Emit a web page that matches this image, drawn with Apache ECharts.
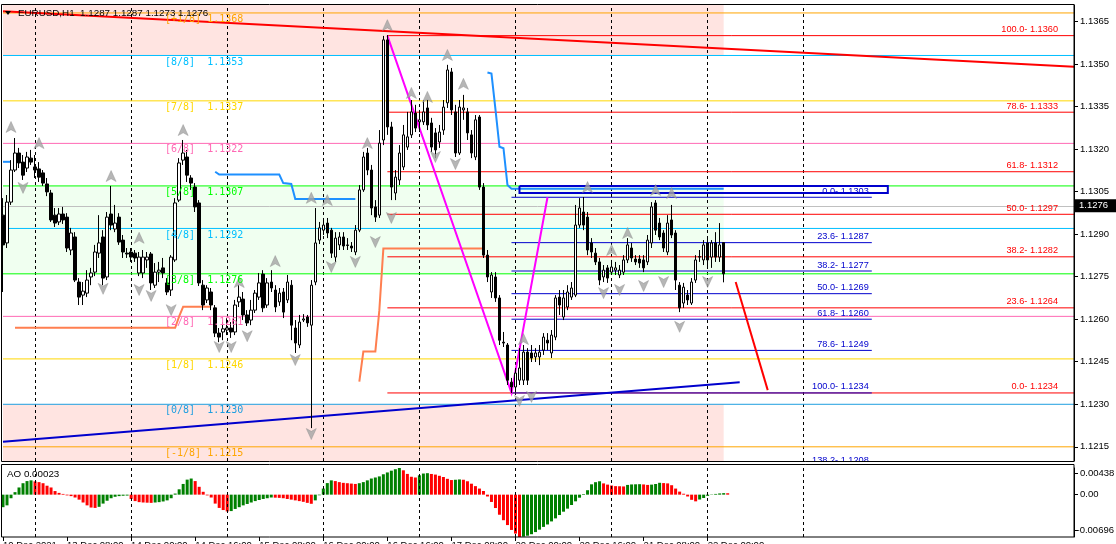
<!DOCTYPE html>
<html><head><meta charset="utf-8">
<script src="https://cdn.jsdelivr.net/npm/echarts@6/dist/echarts.min.js"></script>
<style>html,body{margin:0;padding:0;background:#fff}#c{width:1116px;height:544px}</style>
</head><body><div id="c"></div>
<script>
// ---------- data ----------
const headerText = 'EURUSD,H1  1.1287 1.1287 1.1273 1.1276';
const aoTitle = 'AO 0.00023';
const barCount = 268; // visible slots incl. chart shift
const priceTicks = [1.1365,1.1350,1.1335,1.1320,1.1305,1.1290,1.1275,1.1260,1.1245,1.1230,1.1215];
const yMin = 1.12100, yMax = 1.13708;
const aoMin = -0.00696, aoMax = 0.00438;
const aoTickValues = [0.00438, 0, -0.00696];
const aoTickLabels = ['0.00438', '0.00', '-0.00696'];
const xLabelIdx = [0,16,32,48,64,80,96,112,128,144,160,176];
const xLabelText = ['10 Dec 2021','13 Dec 08:00','14 Dec 00:00','14 Dec 16:00','15 Dec 08:00','16 Dec 00:00','16 Dec 16:00','17 Dec 08:00','20 Dec 00:00','20 Dec 16:00','21 Dec 08:00','22 Dec 00:00'];
const dayStartIdx = [8,32,56,80,104,128,152,176,200];

// [open, close, low, high]
const ohlc = [
[1.12967,1.12862,1.12696,1.13027],[1.12869,1.13013,1.12851,1.13038],[1.13013,1.13126,1.13003,1.13161],[1.13126,1.13186,1.13119,1.13239],[1.13186,1.13151,1.13133,1.13204],
[1.13154,1.13108,1.13091,1.13179],[1.13133,1.13172,1.13119,1.13190],[1.13168,1.13154,1.13144,1.13197],[1.13137,1.13126,1.13098,1.13179],[1.13130,1.13101,1.13084,1.13154],
[1.13116,1.13080,1.13070,1.13126],[1.13077,1.13049,1.13034,1.13098],[1.13045,1.12950,1.12943,1.13056],[1.12967,1.12939,1.12925,1.12992],[1.12943,1.12971,1.12932,1.12992],
[1.12971,1.12950,1.12936,1.12996],[1.12960,1.12851,1.12837,1.12974],[1.12844,1.12904,1.12826,1.12922],[1.12890,1.12738,1.12731,1.12907],[1.12731,1.12678,1.12650,1.12745],
[1.12685,1.12699,1.12650,1.12731],[1.12692,1.12738,1.12678,1.12773],[1.12749,1.12763,1.12720,1.12781],[1.12766,1.12837,1.12752,1.12862],[1.12833,1.12869,1.12816,1.12967],
[1.12890,1.12745,1.12720,1.12914],[1.12749,1.12960,1.12738,1.12978],[1.12971,1.12932,1.12914,1.13070],[1.12918,1.12939,1.12907,1.13003],[1.12960,1.12872,1.12862,1.12974],
[1.12879,1.12837,1.12816,1.12897],[1.12833,1.12830,1.12816,1.12851],[1.12837,1.12819,1.12802,1.12851],[1.12833,1.12816,1.12802,1.12844],[1.12763,1.12819,1.12752,1.12837],
[1.12763,1.12819,1.12745,1.12844],[1.12809,1.12819,1.12781,1.12837],[1.12830,1.12728,1.12703,1.12837],[1.12720,1.12766,1.12710,1.12798],[1.12766,1.12773,1.12731,1.12802],
[1.12781,1.12763,1.12745,1.12816],[1.12728,1.12696,1.12685,1.12745],[1.12703,1.12819,1.12682,1.12826],[1.12809,1.13010,1.12802,1.13027],[1.13020,1.13151,1.13013,1.13168],
[1.13161,1.13186,1.13144,1.13232],[1.13172,1.13108,1.13084,1.13197],[1.13098,1.13080,1.13056,1.13108],[1.13066,1.12996,1.12978,1.13080],[1.13010,1.12728,1.12717,1.13020],
[1.12720,1.12650,1.12632,1.12738],[1.12668,1.12710,1.12657,1.12720],[1.12696,1.12650,1.12632,1.12710],[1.12640,1.12551,1.12537,1.12650],[1.12551,1.12537,1.12519,1.12569],
[1.12555,1.12566,1.12526,1.12590],[1.12562,1.12569,1.12544,1.12604],[1.12569,1.12555,1.12534,1.12590],[1.12555,1.12650,1.12544,1.12668],[1.12661,1.12678,1.12643,1.12720],
[1.12671,1.12615,1.12597,1.12696],[1.12615,1.12587,1.12576,1.12632],[1.12597,1.12632,1.12579,1.12668],[1.12632,1.12692,1.12622,1.12703],[1.12678,1.12728,1.12668,1.12763],
[1.12759,1.12640,1.12625,1.12773],[1.12650,1.12728,1.12640,1.12745],[1.12731,1.12710,1.12696,1.12773],[1.12703,1.12643,1.12625,1.12720],[1.12661,1.12692,1.12647,1.12710],
[1.12696,1.12625,1.12604,1.12710],[1.12668,1.12731,1.12657,1.12756],[1.12720,1.12579,1.12526,1.12738],[1.12569,1.12516,1.12481,1.12597],[1.12509,1.12590,1.12498,1.12615],
[1.12597,1.12601,1.12590,1.12618],[1.12608,1.12587,1.12573,1.12615],[1.12579,1.12720,1.12216,1.12738],[1.12731,1.12869,1.12720,1.12992],[1.12879,1.12922,1.12865,1.12943],
[1.12914,1.12932,1.12897,1.12957],[1.12939,1.12904,1.12886,1.12957],[1.12914,1.12833,1.12816,1.12922],[1.12819,1.12886,1.12802,1.12907],[1.12862,1.12890,1.12844,1.12907],
[1.12890,1.12858,1.12844,1.12907],[1.12862,1.12860,1.12844,1.12886],[1.12858,1.12851,1.12837,1.12872],[1.12837,1.12914,1.12826,1.12932],[1.12914,1.13056,1.12907,1.13073],
[1.13056,1.13172,1.13049,1.13190],[1.13186,1.13126,1.13108,1.13204],[1.13126,1.12992,1.12967,1.13144],[1.12996,1.12960,1.12943,1.13020],[1.12967,1.13221,1.12957,1.13267],
[1.13232,1.13585,1.13214,1.13599],[1.13585,1.13278,1.13250,1.13602],[1.13278,1.13066,1.13020,1.13296],[1.13045,1.13101,1.13020,1.13126],[1.13091,1.13186,1.13073,1.13214],
[1.13137,1.13250,1.13126,1.13285],[1.13207,1.13243,1.13197,1.13331],[1.13250,1.13331,1.13239,1.13373],[1.13327,1.13274,1.13260,1.13356],[1.13296,1.13303,1.13260,1.13338],
[1.13296,1.13331,1.13285,1.13373],[1.13345,1.13285,1.13267,1.13373],[1.13292,1.13207,1.13190,1.13310],[1.13257,1.13197,1.13168,1.13274],[1.13225,1.13260,1.13204,1.13285],
[1.13267,1.13348,1.13250,1.13373],[1.13363,1.13479,1.13345,1.13497],[1.13472,1.13338,1.13320,1.13486],[1.13331,1.13186,1.13172,1.13356],[1.13186,1.13348,1.13179,1.13373],
[1.13338,1.13345,1.13303,1.13391],[1.13331,1.13257,1.13232,1.13345],[1.13250,1.13186,1.13168,1.13267],[1.13172,1.13303,1.13161,1.13320],[1.13313,1.13066,1.13056,1.13320],
[1.13066,1.12826,1.12816,1.13080],[1.12826,1.12749,1.12731,1.12844],[1.12696,1.12756,1.12675,1.12766],[1.12749,1.12675,1.12661,1.12766],[1.12675,1.12526,1.12509,1.12685],
[1.12519,1.12516,1.12502,1.12555],[1.12509,1.12385,1.12368,1.12516],[1.12378,1.12361,1.12340,1.12393],[1.12361,1.12410,1.12343,1.12428],[1.12385,1.12428,1.12368,1.12498],
[1.12385,1.12484,1.12368,1.12509],[1.12484,1.12385,1.12368,1.12498],[1.12481,1.12463,1.12449,1.12509],[1.12467,1.12481,1.12449,1.12498],[1.12467,1.12484,1.12438,1.12509],
[1.12491,1.12537,1.12474,1.12551],[1.12526,1.12516,1.12491,1.12551],[1.12481,1.12544,1.12463,1.12562],[1.12537,1.12675,1.12526,1.12685],[1.12678,1.12650,1.12615,1.12703],
[1.12608,1.12675,1.12597,1.12703],[1.12643,1.12696,1.12632,1.12720],[1.12678,1.12710,1.12668,1.12731],[1.12685,1.12932,1.12678,1.13003],[1.12932,1.12992,1.12922,1.13027],
[1.12978,1.12932,1.12914,1.13031],[1.12960,1.12844,1.12826,1.12978],[1.12869,1.12837,1.12816,1.12886],[1.12833,1.12802,1.12791,1.12851],[1.12802,1.12738,1.12720,1.12816],
[1.12749,1.12773,1.12731,1.12791],[1.12781,1.12745,1.12728,1.12791],[1.12766,1.12784,1.12756,1.12809],[1.12773,1.12781,1.12756,1.12802],[1.12756,1.12773,1.12745,1.12791],
[1.12766,1.12809,1.12756,1.12826],[1.12809,1.12862,1.12798,1.12886],[1.12851,1.12816,1.12802,1.12869],[1.12812,1.12802,1.12791,1.12826],[1.12812,1.12798,1.12781,1.12826],
[1.12809,1.12781,1.12766,1.12826],[1.12802,1.12879,1.12791,1.12897],[1.12869,1.12996,1.12851,1.13013],[1.13010,1.12914,1.12897,1.13020],[1.12939,1.12890,1.12879,1.12957],
[1.12904,1.12851,1.12837,1.12914],[1.12837,1.12939,1.12826,1.12967],[1.12950,1.12897,1.12886,1.13003],[1.12904,1.12738,1.12703,1.12914],[1.12720,1.12640,1.12625,1.12731],
[1.12657,1.12713,1.12640,1.12728],[1.12685,1.12668,1.12650,1.12703],[1.12657,1.12731,1.12650,1.12745],[1.12738,1.12809,1.12728,1.12826],[1.12819,1.12821,1.12802,1.12844],
[1.12809,1.12862,1.12791,1.12879],[1.12869,1.12809,1.12781,1.12886],[1.12819,1.12869,1.12781,1.12879],[1.12869,1.12819,1.12802,1.12907],[1.12819,1.12862,1.12802,1.12939],
[1.1287,1.1276,1.1273,1.1287]
];

const aoValues = [
-0.00206,-0.00176,-0.00059,0.00041,0.00118,0.00188,0.00223,0.00235,0.00218,0.00206,
0.00188,0.00147,0.00118,0.00059,0.00029,0.00012,-0.00012,-0.00024,-0.00047,-0.00082,
-0.00129,-0.00176,-0.00212,-0.00218,-0.00200,-0.00147,-0.00100,-0.00059,-0.00035,-0.00024,
-0.00018,-0.00015,-0.00071,-0.00106,-0.00123,-0.00129,-0.00132,-0.00135,-0.00129,-0.00123,
-0.00112,-0.00094,-0.00059,0.00018,0.00088,0.00176,0.00247,0.00265,0.00223,0.00129,
0.00047,-0.00012,-0.00047,-0.00147,-0.00218,-0.00253,-0.00276,-0.00270,-0.00235,-0.00206,
-0.00176,-0.00153,-0.00129,-0.00106,-0.00088,-0.00071,-0.00059,-0.00047,-0.00050,-0.00053,
-0.00059,-0.00071,-0.00082,-0.00094,-0.00106,-0.00118,-0.00135,-0.00150,-0.00094,-0.00010,
0.00100,0.00190,0.00235,0.00223,0.00206,0.00194,0.00188,0.00182,0.00176,0.00188,
0.00206,0.00235,0.00265,0.00282,0.00300,0.00335,0.00365,0.00394,0.00418,0.00438,
0.00400,0.00341,0.00294,0.00282,0.00318,0.00347,0.00353,0.00340,0.00330,0.00310,
0.00290,0.00260,0.00240,0.00245,0.00250,0.00245,0.00220,0.00180,0.00140,0.00100,
0.00060,-0.00030,-0.00120,-0.00220,-0.00330,-0.00420,-0.00500,-0.00580,-0.00640,-0.00696,
-0.00690,-0.00675,-0.00650,-0.00615,-0.00575,-0.00530,-0.00490,-0.00440,-0.00390,-0.00335,
-0.00280,-0.00230,-0.00170,-0.00110,-0.00050,0.00010,0.00073,0.00170,0.00205,0.00220,
0.00185,0.00165,0.00150,0.00140,0.00138,0.00135,0.00160,0.00168,0.00170,0.00172,
0.00168,0.00160,0.00165,0.00175,0.00195,0.00190,0.00185,0.00155,0.00100,0.00050,
0.00015,-0.00030,-0.00085,-0.00110,-0.00080,-0.00055,-0.00020,0.00005,0.00012,0.00020,
0.00025,0.00023
];

// Murrey Math levels
const murreyNames = ['[+1/8]','[8/8]','[7/8]','[6/8]','[5/8]','[4/8]','[3/8]','[2/8]','[1/8]','[0/8]','[-1/8]'];
const murreyValues = [1.1368,1.1353,1.1337,1.1322,1.1307,1.1292,1.1276,1.1261,1.1246,1.1230,1.1215];
const murreyColors = ['#FFA500','#00BFFF','#FFD700','#FF69B4','#00FF00','#00BFFF','#00FF00','#FF69B4','#FFD700','#1E9EE0','#FFA500'];
const fullSpan = [-0.5, 267.5];
// zones [from, to]
const zonePinkTop = [1.1353, yMax];
const zoneGreen = [1.1276, 1.1307];
const zonePinkBottom = [yMin, 1.1230];
const zoneEndBar = 180;

// Fibonacci sets
const redFibPct = ['100.0','78.6','61.8','50.0','38.2','23.6','0.0'];
const redFibValues = [1.1360,1.1333,1.1312,1.1297,1.1282,1.1264,1.1234];
const redFibBars = [96, 267.5];
const blueFibPct = ['0.0','23.6','38.2','50.0','61.8','78.6','100.0','138.2'];
const blueFibValues = [1.1303,1.1287,1.1277,1.1269,1.1260,1.1249,1.1234,1.1208];
const blueFibBars = [127, 217];

// drawn objects / indicator lines: [bar, price]
const redTrend = [[-0.5,1.13686],[267.5,1.13490]];
const blueTrend = [[-0.5,1.12168],[184,1.12378]];
const zigzag = [[96,1.1360],[127,1.1234],[136,1.1303]];
const redProjection = [[183,1.12731],[191,1.1235]];
const boxRect = [[129,1.1307],[221,1.1307],[221,1.13045],[129,1.13045],[129,1.1307]];
const stBlue1 = [[0,1.13155],[2,1.13155]];
const stBlue2 = [[53,1.1312],[54,1.1311],[69,1.1311],[70,1.1308],[72,1.13077],[73,1.13024],[88,1.13024]];
const stBlue3 = [[121,1.1347],[122,1.13466],[123,1.1334],[124,1.13208],[125,1.13203],[126,1.13073],[127,1.1306],[180,1.1306]];
const stCoral1 = [[3,1.1257],[43,1.1257],[44,1.1261],[45,1.12644],[52,1.12644]];
const stCoral2 = [[89,1.1238],[90,1.12486],[93,1.12486],[94,1.12632],[95,1.12849],[120,1.12849]];

const fractalUp = [[2,1.13278],[9,1.13221],[27,1.13105],[34,1.12887],[45,1.13267],[59,1.12731],[68,1.12805],[77,1.13028],[81,1.13020],[91,1.13221],[96,1.13637],[102,1.13398],[106,1.13384],[111,1.13532],[115,1.13430],[130,1.12530],[146,1.13066],[152,1.12844],[156,1.12904],[163,1.13056],[167,1.13045]];
const fractalDown = [[5,1.13063],[25,1.12707],[34,1.12703],[37,1.12682],[42,1.12632],[54,1.12502],[57,1.12502],[61,1.12540],[73,1.12456],[77,1.12195],[82,1.12784],[88,1.12802],[93,1.12872],[97,1.12957],[108,1.13172],[113,1.13147],[129,1.12312],[132,1.12326],[150,1.12692],[154,1.12703],[160,1.12717],[165,1.12731],[169,1.12573],[176,1.12731]];

const bidPrice = 1.12757, bidLabel = '1.1276';

// ---------- chart ----------
const FONT = 'Liberation Sans';
const cats = Array.from({length: barCount}, (_, i) => String(i));
const chart = echarts.init(document.getElementById('c'), null, {renderer: 'canvas'});

const dayLines = dayStartIdx.map(i => ({xAxis: i, lineStyle: {type: [3,3], color: '#000', width: 1}}));
const zoneArea = (z, color) => [{xAxis: 0, yAxis: z[0], itemStyle: {color}}, {xAxis: zoneEndBar, yAxis: z[1]}];

const seg = (coords, color, width) => ({coords, lineStyle: {color, width, type: 'solid', opacity: 1}});
const levelData = murreyValues.map((v, i) => seg([[fullSpan[0], v], [fullSpan[1], v]], murreyColors[i], 1));
const linesData = [];
redFibValues.forEach(v => linesData.push(seg([[redFibBars[0], v], [redFibBars[1], v]], '#FF0000', 1)));
blueFibValues.forEach(v => linesData.push(seg([[blueFibBars[0], v], [blueFibBars[1], v]], '#0000CD', 1)));
linesData.push(seg(stCoral1, '#FF7F50', 2), seg(stCoral2, '#FF7F50', 2));
linesData.push(seg(stBlue1, '#1E90FF', 2), seg(stBlue2, '#1E90FF', 2), seg(stBlue3, '#1E90FF', 2));
linesData.push(seg(boxRect, '#0000CD', 2));
linesData.push(seg(redTrend, '#FF0000', 2), seg(blueTrend, '#0000CD', 2));
linesData.push(seg(zigzag, '#FF00FF', 2), seg(redProjection, '#FF0000', 2));

const arrowUp = 'path://M5,0L10,10L5,7.5L0,10Z';
const arrowDown = 'path://M0,0L5,2.5L10,0L5,10Z';

const option = {
  animation: false,
  backgroundColor: '#ffffff',
  textStyle: {fontFamily: FONT},
  grid: [
    {left: 1, top: 5, width: 1073, height: 456, show: false, outerBoundsMode: 'none', containLabel: false},
    {left: 1, top: 468, width: 1073, height: 69, show: false, outerBoundsMode: 'none', containLabel: false}
  ],
  xAxis: [
    {type: 'category', gridIndex: 0, data: cats, boundaryGap: true,
     axisLine: {show: false, onZero: false}, axisTick: {show: false}, axisLabel: {show: false}, splitLine: {show: false}},
    {type: 'category', gridIndex: 1, data: cats, boundaryGap: true, position: 'bottom',
     axisLine: {show: false, onZero: false},
     axisTick: {show: true, alignWithLabel: true, length: 4, interval: (i) => xLabelIdx.includes(i), lineStyle: {color: '#000'}},
     axisLabel: {show: true, interval: (i) => xLabelIdx.includes(i), formatter: (v, i) => xLabelText[xLabelIdx.indexOf(Number(v))] || '',
       align: 'left', margin: 3, fontSize: 9.5, fontFamily: FONT, color: '#000'},
     splitLine: {show: false}}
  ],
  yAxis: [
    {type: 'value', gridIndex: 0, position: 'right', min: yMin, max: yMax,
     axisLine: {show: true, lineStyle: {color: '#000'}},
     axisTick: {show: true, length: 4, customValues: priceTicks, lineStyle: {color: '#000'}},
     axisLabel: {show: true, customValues: priceTicks, formatter: v => v.toFixed(4), margin: 6, fontSize: 9.5, fontFamily: FONT, color: '#000'},
     splitLine: {show: false}},
    {type: 'value', gridIndex: 1, position: 'right', min: aoMin, max: aoMax,
     axisLine: {show: true, lineStyle: {color: '#000'}},
     axisTick: {show: true, length: 4, customValues: [0], lineStyle: {color: '#000'}},
     axisLabel: {show: false},
     splitLine: {show: false}}
  ],
  series: [
    {type: 'line', name: 'zones', xAxisIndex: 0, yAxisIndex: 0, data: [], z: 0, silent: true,
     markArea: {silent: true, z: 0, data: [zoneArea(zonePinkTop, '#FFE4E1'), zoneArea(zoneGreen, '#F0FFF0'), zoneArea(zonePinkBottom, '#FFE4E1')]}},
    {type: 'line', name: 'grid', xAxisIndex: 0, yAxisIndex: 0, data: [], z: 1, silent: true,
     markLine: {silent: true, z: 1, symbol: ['none', 'none'], label: {show: false}, data: dayLines}},
    {type: 'lines', name: 'levels', coordinateSystem: 'cartesian2d', xAxisIndex: 0, yAxisIndex: 0,
     polyline: true, z: 1, silent: true, lineStyle: {opacity: 1}, data: levelData},
    {type: 'lines', name: 'objects', coordinateSystem: 'cartesian2d', xAxisIndex: 0, yAxisIndex: 0,
     polyline: true, z: 2, silent: true, lineStyle: {opacity: 1}, data: linesData},
    {type: 'candlestick', name: 'EURUSD', xAxisIndex: 0, yAxisIndex: 0, data: ohlc, barWidth: 3, z: 3,
     itemStyle: {color: '#ffffff', color0: '#000000', borderColor: '#000000', borderColor0: '#000000', borderColorDoji: '#000000', borderWidth: 1},
     markLine: {silent: true, symbol: ['none', 'none'], z: 2,
       data: [{yAxis: bidPrice, lineStyle: {color: '#C0C0C0', width: 1, type: 'solid'},
         label: {show: true, position: 'end', distance: 1, formatter: bidLabel, backgroundColor: '#000', color: '#fff',
           padding: [2, 8, 1, 4], fontSize: 9.5, fontFamily: FONT}}]}},
    {type: 'scatter', name: 'fractalUp', xAxisIndex: 0, yAxisIndex: 0, data: fractalUp, symbol: arrowUp, symbolSize: [10, 11], z: 4,
     itemStyle: {color: '#A4A4A4', borderColor: '#8A8A8A', borderWidth: 0.5}, silent: true},
    {type: 'scatter', name: 'fractalDown', xAxisIndex: 0, yAxisIndex: 0, data: fractalDown, symbol: arrowDown, symbolSize: [10, 11], z: 4,
     itemStyle: {color: '#A4A4A4', borderColor: '#8A8A8A', borderWidth: 0.5}, silent: true},
    {type: 'bar', name: 'AO', xAxisIndex: 1, yAxisIndex: 1, data: aoValues, barWidth: 3, z: 2,
     itemStyle: {color: p => (p.dataIndex === 0 || aoValues[p.dataIndex] > aoValues[p.dataIndex - 1]) ? '#008000' : '#FF0000'},
     markLine: {silent: true, symbol: ['none', 'none'], label: {show: false}, data: dayLines}}
  ]
};
chart.setOption(option);

// ---------- text overlays positioned through the chart's scales ----------
const px = (b, p) => chart.convertToPixel({gridIndex: 0}, [b, p]);
const aoPx = (v) => chart.convertToPixel({gridIndex: 1}, [0, v])[1];
const g = [];
const txt = (x, y, text, color, font, align, z) => ({type: 'text', x, y, z: z || 10, silent: true,
  style: {text, fill: color, font, align: align || 'left', verticalAlign: 'middle'}});

murreyValues.forEach((v, i) => {
  const y = px(0, v)[1];
  const name = murreyNames[i];
  g.push(txt(165, y + 6.5, name + (name.length < 6 ? '  ' : ' ') + v.toFixed(4), murreyColors[i], '10px "DejaVu Sans Mono"'));
});
const redRight = px(267, 0)[0] - 14;
redFibValues.forEach((v, i) => {
  const y = px(0, v)[1];
  g.push(txt(redRight, y - 6, redFibPct[i] + '- ' + v.toFixed(4), '#FF0000', '9.2px "' + FONT + '"', 'right'));
});
const blueRight = px(blueFibBars[1], 0)[0] - 3;
blueFibValues.forEach((v, i) => {
  const y = px(0, v)[1];
  g.push(txt(blueRight, y - 6, blueFibPct[i] + '- ' + v.toFixed(4), '#0000CD', '9.2px "' + FONT + '"', 'right', 9));
});
// AO scale labels (MT4 keeps the extreme labels inside the panel)
const aoFont = '9.5px "' + FONT + '"';
g.push(txt(1080, aoPx(aoTickValues[0]) + 5, aoTickLabels[0], '#000', aoFont, 'left', 20));
g.push(txt(1080, aoPx(aoTickValues[1]), aoTickLabels[1], '#000', aoFont, 'left', 20));
g.push(txt(1114, aoPx(aoTickValues[2]) - 7, aoTickLabels[2], '#000', aoFont, 'right', 20));
g.push({type: 'line', shape: {x1: 1074, y1: aoPx(aoTickValues[0]) + 5.5, x2: 1078, y2: aoPx(aoTickValues[0]) + 5.5}, style: {stroke: '#000'}, z: 20, silent: true});
g.push({type: 'line', shape: {x1: 1074, y1: aoPx(aoTickValues[2]) - 6.5, x2: 1078, y2: aoPx(aoTickValues[2]) - 6.5}, style: {stroke: '#000'}, z: 20, silent: true});
// header & AO title
g.push({type: 'polygon', shape: {points: [[5, 11], [11, 11], [8, 15]]}, style: {fill: '#000'}, z: 20, silent: true});
g.push(txt(18, 13.5, headerText, '#000', '9.8px "' + FONT + '"', 'left', 20));
g.push(txt(7, 474, aoTitle, '#000', '9.8px "' + FONT + '"', 'left', 20));
// panel frames
g.push({type: 'rect', shape: {x: 700, y: 462, width: 300, height: 2.5}, style: {fill: '#fff'}, z: 29, silent: true});
g.push({type: 'rect', shape: {x: 1.5, y: 4.5, width: 1072.5, height: 457}, style: {fill: 'none', stroke: '#000', lineWidth: 1}, z: 30, silent: true});
g.push({type: 'rect', shape: {x: 1.5, y: 464.5, width: 1072.5, height: 72.5}, style: {fill: 'none', stroke: '#000', lineWidth: 1}, z: 30, silent: true});
chart.setOption({graphic: {elements: g}});
</script>
</body></html>
